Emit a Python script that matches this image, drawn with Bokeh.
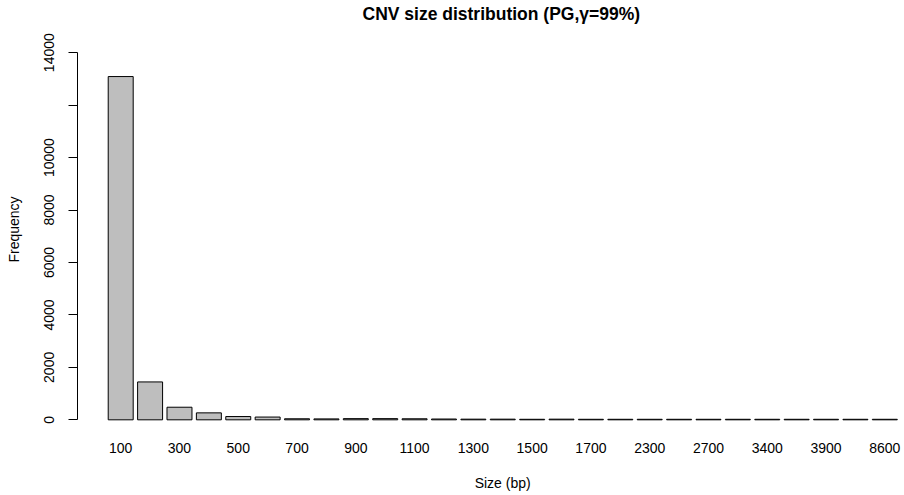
from bokeh.plotting import figure
from bokeh.models import Range1d, FixedTicker, Title
from bokeh.embed import file_html
from bokeh.resources import INLINE

# Data
sizes = ["100", "200", "300", "400", "500", "600", "700", "800", "900", "1000",
         "1100", "1200", "1300", "1400", "1500", "1600", "1700", "2000", "2300",
         "2500", "2700", "3000", "3400", "3600", "3900", "5000", "8600"]
freqs = [13090, 1445, 480, 265, 125, 105, 40, 35, 45, 45,
         40, 30, 25, 25, 20, 25, 20, 20, 20,
         20, 20, 20, 20, 20, 20, 20, 20]
y_ticks = [0, 2000, 4000, 6000, 8000, 10000, 12000, 14000]
hidden_y_labels = [12000]

FONT = "Liberation Sans"
idx = list(range(len(sizes)))

p = figure(width=904, height=495, output_backend="svg", toolbar_location=None,
           x_range=Range1d(-1.47, 26.67), y_range=Range1d(-560, 15075),
           min_border_left=77, min_border_right=0, min_border_top=0,
           min_border_bottom=61)
p.title = Title(text="CNV size distribution (PG,\u03b3=99%)", align="left",
                offset=285, text_font=FONT, text_font_size="17.5px",
                text_font_style="bold", text_color="black", standoff=2)

p.vbar(x=idx, top=freqs, bottom=0, width=0.85, fill_color="#bebebe",
       line_color="black", line_width=1)

p.grid.visible = False
p.outline_line_color = None
p.background_fill_color = "white"
p.border_fill_color = "white"

# x axis: labels only, every other category (as R drops overlapping ones)
xa = p.xaxis[0]
xa.ticker = FixedTicker(ticks=idx[::2])
xa.major_label_overrides = {i: sizes[i] for i in idx}
xa.axis_line_color = None
xa.major_tick_line_color = None
xa.minor_tick_line_color = None
xa.major_tick_out = 0
xa.major_label_standoff = 8
xa.major_label_text_font = FONT
xa.major_label_text_font_size = "14px"
xa.major_label_text_color = "black"
# leading no-break spaces shift the centred label right, onto R's wider plot region
xa.axis_label = "\u00a0" * 6 + "Size (bp)"
xa.axis_label_text_font = FONT
xa.axis_label_text_font_size = "14px"
xa.axis_label_text_font_style = "normal"
xa.axis_label_text_color = "black"
xa.axis_label_standoff = 19

ya = p.yaxis[0]
ya.ticker = FixedTicker(ticks=y_ticks)
ya.major_label_overrides = {t: "" for t in hidden_y_labels}
ya.bounds = (0, 14000)
ya.axis_line_color = "black"
ya.major_tick_line_color = "black"
ya.minor_tick_line_color = None
ya.major_tick_in = 0
ya.major_tick_out = 9
ya.major_label_orientation = "vertical"
ya.major_label_standoff = 14
ya.major_label_text_font = FONT
ya.major_label_text_font_size = "14px"
ya.major_label_text_color = "black"
ya.axis_label = "Frequency"
ya.axis_label_text_font = FONT
ya.axis_label_text_font_size = "14px"
ya.axis_label_text_font_style = "normal"
ya.axis_label_text_color = "black"
ya.axis_label_standoff = 20

open("out.html", "w").write(file_html(p, INLINE))
